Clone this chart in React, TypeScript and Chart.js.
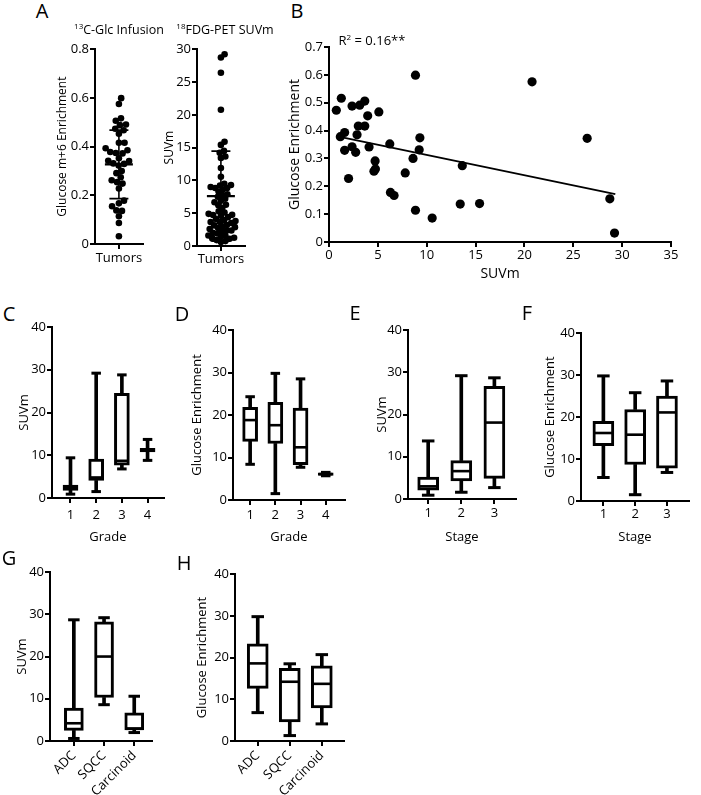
import React, { useEffect, useRef } from 'react';
import { Chart, registerables } from 'chart.js';

Chart.register(...registerables);

const FONT = "'Open Sans', 'DejaVu Sans', sans-serif";
const INK = '#000000';

// ---------------- data: panels A / B ----------------
// paired tumours (SUVm vs 13C glucose m+6 enrichment)
const suvmPaired = [0.75, 1.26, 1.16, 1.6, 1.6, 2.0, 2.36, 2.36, 2.73, 2.87, 3.0, 3.14, 3.66, 3.66, 3.96, 4.1, 4.72, 4.6, 4.75, 5.1, 6.22, 6.29, 6.66, 7.8, 8.6, 8.85, 8.85, 9.23, 9.3, 10.56, 13.43, 13.64, 15.41, 20.78, 26.42, 28.74, 29.22];
const glucosePaired = [0.473, 0.516, 0.378, 0.393, 0.329, 0.228, 0.488, 0.342, 0.322, 0.385, 0.416, 0.491, 0.506, 0.416, 0.453, 0.341, 0.291, 0.254, 0.262, 0.467, 0.352, 0.178, 0.167, 0.248, 0.3, 0.599, 0.114, 0.331, 0.374, 0.086, 0.136, 0.274, 0.138, 0.575, 0.372, 0.155, 0.032];
// tumours with FDG-PET only
const suvmUnpaired = [15.9, 14.5, 14.2, 11.9, 9.5, 9.0, 8.3, 7.9, 7.5, 7.2, 6.9, 5.8, 5.3, 4.9, 4.4, 3.8, 3.5, 3.2, 2.6, 2.2, 1.9, 1.4, 1.1, 0.9, 0.6];
const glucoseMean = 0.327;
const glucoseSD = 0.141;
const suvmMean = 7.6;
const suvmSD = 6.85;
const regressionSlope = -0.0073;
const regressionIntercept = 0.3855;
const regressionXRange = [0.75, 29.3];

// ---------------- data: box plots ----------------
const gradeLabels = ['1', '2', '3', '4'];
const stageLabels = ['1', '2', '3'];
const histologyLabels = ['ADC', 'SQCC', 'Carcinoid'];

// C: SUVm by grade
const cMin = [0.9, 1.5, 6.8, 8.8];
const cQ1 = [1.8, 4.1, 7.7, 10.8];
const cMed = [2.4, 4.8, 8.7, 11.2];
const cQ3 = [3.0, 9.1, 24.5, 11.6];
const cMax = [9.4, 29.2, 28.8, 13.7];
// D: glucose enrichment by grade
const dMin = [8.4, 1.5, 7.7, 5.7];
const dQ1 = [13.8, 13.3, 8.3, 5.8];
const dMed = [18.8, 17.6, 12.4, 6.1];
const dQ3 = [21.8, 23.0, 21.6, 6.4];
const dMax = [24.3, 29.8, 28.5, 6.5];
// E: SUVm by stage
const eMin = [0.9, 1.6, 2.7];
const eQ1 = [2.1, 4.3, 4.9];
const eMed = [3.0, 6.6, 18.1];
const eQ3 = [5.2, 9.1, 26.7];
const eMax = [13.75, 29.2, 28.7];
// F: glucose enrichment by stage
const fMin = [5.6, 1.5, 6.8];
const fQ1 = [13.2, 8.7, 7.8];
const fMed = [16.2, 15.8, 21.1];
const fQ3 = [19.0, 21.8, 25.0];
const fMax = [29.8, 25.8, 28.6];
// G: SUVm by histology
const gMin = [0.6, 8.6, 2.0];
const gQ1 = [2.5, 10.3, 2.6];
const gMed = [4.2, 20.0, 2.9];
const gQ3 = [7.8, 28.2, 6.7];
const gMax = [28.7, 29.2, 10.6];
// H: glucose enrichment by histology
const hMin = [6.8, 1.3, 4.1];
const hQ1 = [12.6, 4.6, 7.9];
const hMed = [18.6, 14.2, 13.7];
const hQ3 = [23.3, 17.4, 18.0];
const hMax = [29.8, 18.5, 20.7];

// ---------------- layout helpers ----------------
type Area = { l: number; t: number; r: number; b: number };
type Frame = { left: number; top: number; width: number; height: number; padT: number; padR: number; yW: number; xH: number; area: Area };

function makeFrame(a: Area, yTitleX: number, yTitleSize: number, xBottom: number, padT: number, padR: number): Frame {
  const left = Math.round(yTitleX - (yTitleSize * 1.2) / 2);
  const yW = a.l - left;
  const xH = Math.round(xBottom) - a.b;
  return { left, top: a.t - padT, width: yW + (a.r - a.l) + padR, height: padT + (a.b - a.t) + xH, padT, padR, yW, xH, area: a };
}

const axisGrid = { display: true, drawOnChartArea: false, drawTicks: true, tickLength: 5, color: INK, lineWidth: 2 };
const axisBorder = { display: true, color: INK, width: 2 };

function yScale(min: number, max: number, step: number, title: string, titleSize: number, frame: Frame) {
  return {
    type: 'linear',
    min, max,
    ticks: { stepSize: step, color: INK, font: { family: FONT, size: 13 }, padding: 1, autoSkip: false },
    grid: axisGrid,
    border: axisBorder,
    title: { display: true, text: title, color: INK, font: { family: FONT, size: titleSize }, padding: 0 },
    afterFit: (s: any) => { s.width = frame.yW; },
  };
}

function xCatScale(min: number, max: number, positions: number[], labels: string[], frame: Frame, tickPad: number, rotation: number, title?: string) {
  return {
    type: 'linear',
    min, max,
    offset: false,
    afterBuildTicks: (s: any) => { s.ticks = positions.map((v) => ({ value: v })); },
    ticks: {
      callback: (_v: any, i: number) => labels[i] ?? '',
      autoSkip: false, minRotation: rotation, maxRotation: rotation, padding: tickPad,
      color: INK, font: { family: FONT, size: 13 },
    },
    grid: { ...axisGrid, offset: false },
    border: axisBorder,
    title: title ? { display: true, text: title, color: INK, font: { family: FONT, size: 13 }, padding: 0 } : { display: false },
    afterFit: (s: any) => { s.height = frame.xH; },
  };
}

function baseOptions(frame: Frame, scales: any) {
  return {
    responsive: false,
    animation: false,
    devicePixelRatio: 1,
    events: [],
    layout: { padding: { top: frame.padT, right: frame.padR, left: 0, bottom: 0 } },
    plugins: { legend: { display: false }, tooltip: { enabled: false }, title: { display: false } },
    scales,
  };
}

function beeswarmOffsets(values: number[], pxPerUnit: number, diameter: number): number[] {
  const idx = values.map((_, i) => i).sort((a, b) => values[a] - values[b]);
  const placed: { x: number; y: number }[] = [];
  const out = new Array(values.length).fill(0);
  const d2 = diameter * diameter;
  for (const i of idx) {
    const y = values[i] * pxPerUnit;
    const near = placed.filter((p) => Math.abs(p.y - y) < diameter);
    const cands = [0];
    for (const p of near) {
      const dx = Math.sqrt(d2 - (p.y - y) ** 2);
      cands.push(p.x + dx, p.x - dx);
    }
    cands.sort((a, b) => Math.abs(a) - Math.abs(b));
    let x = 0;
    for (const c of cands) {
      if (near.every((p) => (p.x - c) ** 2 + (p.y - y) ** 2 >= d2 - 0.01)) { x = c; break; }
    }
    placed.push({ x, y });
    out[i] = x;
  }
  return out;
}

// ---------------- chart configs ----------------
function stripConfig(frame: Frame, values: number[], yMax: number, yStep: number, yTitle: string, mean: number, sd: number, tickPad: number, swarmD: number) {
  const a = frame.area;
  const pxPerUnit = (a.b - a.t) / yMax;
  const offs = beeswarmOffsets(values, pxPerUnit, swarmD);
  const unitsPerPx = 2 / (a.r - a.l);
  const pts = values.map((v, i) => ({ x: offs[i] * unitsPerPx, y: v }));
  const lo = mean - sd;
  const hi = mean + sd;
  return {
    type: 'scatter',
    data: {
      datasets: [
        { type: 'scatter', data: [{ x: 0, y: mean }], pointStyle: 'line', pointRadius: 14, pointBorderWidth: 2.2, pointBorderColor: INK },
        { type: 'scatter', data: [{ x: 0, y: lo }, { x: 0, y: hi }], pointStyle: 'line', pointRadius: 9.5, pointBorderWidth: 1.8, pointBorderColor: INK },
        { type: 'line', showLine: true, data: [{ x: 0, y: lo }, { x: 0, y: hi }], borderColor: INK, borderWidth: 1.6, pointRadius: 0 },
        { type: 'scatter', data: pts, pointRadius: 3.3, pointBackgroundColor: INK, pointBorderWidth: 0, pointBorderColor: INK },
      ],
    },
    options: baseOptions(frame, {
      x: xCatScale(-1, 1, [0], ['Tumors'], frame, tickPad, 0),
      y: yScale(0, yMax, yStep, yTitle, 12, frame),
    }),
  };
}

function scatterConfig(frame: Frame) {
  const pts = suvmPaired.map((x, i) => ({ x, y: glucosePaired[i] }));
  const line = regressionXRange.map((x) => ({ x, y: regressionIntercept + regressionSlope * x }));
  return {
    type: 'scatter',
    data: {
      datasets: [
        { type: 'line', showLine: true, data: line, borderColor: INK, borderWidth: 1.8, pointRadius: 0 },
        { type: 'scatter', data: pts, pointRadius: 4.6, pointBackgroundColor: INK, pointBorderWidth: 0, pointBorderColor: INK },
      ],
    },
    options: baseOptions(frame, {
      x: {
        type: 'linear', min: 0, max: 35,
        ticks: { stepSize: 5, color: INK, font: { family: FONT, size: 13 }, padding: 0, autoSkip: false },
        grid: axisGrid, border: axisBorder,
        title: { display: true, text: 'SUVm', color: INK, font: { family: FONT, size: 14 }, padding: 0 },
        afterFit: (s: any) => { s.height = frame.xH; },
      },
      y: yScale(0, 0.7, 0.1, 'Glucose Enrichment', 14, frame),
    }),
  };
}

function boxConfig(frame: Frame, labels: string[], mins: number[], q1: number[], med: number[], q3: number[], maxs: number[],
  xMin: number, xMax: number, yTitle: string, xTitle: string | undefined, boxPx: number, tickPad: number, rotation: number) {
  const xs = labels.map((_, i) => i + 1);
  const lw = 3;
  return {
    type: 'scatter',
    data: {
      datasets: [
        { type: 'scatter', data: xs.map((x, i) => ({ x, y: med[i] })), pointStyle: 'line', pointRadius: boxPx / 2 - 1, pointBorderWidth: 2.6, pointBorderColor: INK },
        { type: 'scatter', data: [...xs.map((x, i) => ({ x, y: mins[i] })), ...xs.map((x, i) => ({ x, y: maxs[i] }))], pointStyle: 'line', pointRadius: boxPx / 4 + 1, pointBorderWidth: lw, pointBorderColor: INK },
        { type: 'bar', data: xs.map((x, i) => ({ x, y: [q1[i], q3[i]] })), barThickness: boxPx, backgroundColor: '#ffffff', borderColor: INK, borderWidth: lw, borderSkipped: false, grouped: false },
        { type: 'bar', data: xs.map((x, i) => ({ x, y: [mins[i], q1[i]] })), barThickness: lw, backgroundColor: INK, borderWidth: 0, grouped: false },
        { type: 'bar', data: xs.map((x, i) => ({ x, y: [q3[i], maxs[i]] })), barThickness: lw, backgroundColor: INK, borderWidth: 0, grouped: false },
      ],
    },
    options: baseOptions(frame, {
      x: xCatScale(xMin, xMax, xs, labels, frame, tickPad, rotation, xTitle),
      y: yScale(0, 40, 10, yTitle, 13, frame),
    }),
  };
}

// ---------------- frames ----------------
const frameA1 = makeFrame({ l: 95, t: 43, r: 151, b: 244 }, 62, 12, 270, 10, 8);
const frameA2 = makeFrame({ l: 197, t: 43, r: 253, b: 246 }, 169, 12, 272, 10, 8);
const frameB = makeFrame({ l: 329, t: 47, r: 671, b: 242 }, 295, 14, 282, 10, 14);
const frameC = makeFrame({ l: 52, t: 327, r: 167, b: 498 }, 23.5, 13, 545, 10, 6);
const frameD = makeFrame({ l: 233, t: 330, r: 348, b: 500 }, 197, 13, 545, 10, 6);
const frameE = makeFrame({ l: 408, t: 328, r: 522, b: 499 }, 382, 13, 545, 10, 6);
const frameF = makeFrame({ l: 581, t: 331, r: 698, b: 501 }, 550, 13, 545, 10, 3);
const frameG = makeFrame({ l: 50, t: 571, r: 157, b: 741 }, 22, 13, 795, 10, 6);
const frameH = makeFrame({ l: 235, t: 572, r: 350, b: 741 }, 202, 13, 795, 10, 6);

const panels: { key: string; frame: Frame; build: () => any }[] = [
  { key: 'a1', frame: frameA1, build: () => stripConfig(frameA1, glucosePaired, 0.8, 0.2, 'Glucose m+6 Enrichment', glucoseMean, glucoseSD, 1, 6.6) },
  { key: 'a2', frame: frameA2, build: () => stripConfig(frameA2, [...suvmPaired, ...suvmUnpaired], 30, 5, 'SUVm', suvmMean, suvmSD, 0, 5.4) },
  { key: 'b', frame: frameB, build: () => scatterConfig(frameB) },
  { key: 'c', frame: frameC, build: () => boxConfig(frameC, gradeLabels, cMin, cQ1, cMed, cQ3, cMax, 0.28, 4.636, 'SUVm', 'Grade', 15, 4, 0) },
  { key: 'd', frame: frameD, build: () => boxConfig(frameD, gradeLabels, dMin, dQ1, dMed, dQ3, dMax, 0.32, 4.76, 'Glucose Enrichment', 'Grade', 15, 2, 0) },
  { key: 'e', frame: frameE, build: () => boxConfig(frameE, stageLabels, eMin, eQ1, eMed, eQ3, eMax, 0.39, 3.65, 'SUVm', 'Stage', 21, 1, 0) },
  { key: 'f', frame: frameF, build: () => boxConfig(frameF, stageLabels, fMin, fQ1, fMed, fQ3, fMax, 0.296, 3.69, 'Glucose Enrichment', 'Stage', 21, 0, 0) },
  { key: 'g', frame: frameG, build: () => boxConfig(frameG, histologyLabels, gMin, gQ1, gMed, gQ3, gMax, 0.21, 3.585, 'SUVm', undefined, 19, 2, 45) },
  { key: 'h', frame: frameH, build: () => boxConfig(frameH, histologyLabels, hMin, hQ1, hMed, hQ3, hMax, 0.29, 3.69, 'Glucose Enrichment', undefined, 21, 2, 45) },
];

function ChartPanel({ frame, build }: { frame: Frame; build: () => any }) {
  const ref = useRef<HTMLCanvasElement | null>(null);
  useEffect(() => {
    if (!ref.current) return;
    const chart = new Chart(ref.current, build());
    return () => chart.destroy();
  }, []);
  return (
    <canvas
      ref={ref}
      width={frame.width}
      height={frame.height}
      style={{ position: 'absolute', left: frame.left, top: frame.top, width: frame.width, height: frame.height }}
    />
  );
}

function Label({ x, y, size, children }: { x: number; y: number; size: number; children: any }) {
  return (
    <div style={{ position: 'absolute', left: x, top: y, transform: 'translate(-50%, -50%)', fontSize: size, lineHeight: 1, whiteSpace: 'nowrap', fontFamily: FONT, color: INK }}>
      {children}
    </div>
  );
}

const supStyle = { fontSize: 8, position: 'relative' as const, top: -5, lineHeight: 0 };

export default function App() {
  return (
    <div style={{ position: 'absolute', left: 0, top: 0, width: 701, height: 795, background: '#ffffff', overflow: 'hidden' }}>
      {panels.map((p) => <ChartPanel key={p.key} frame={p.frame} build={p.build} />)}
      <Label x={42} y={11} size={20}>A</Label>
      <Label x={297} y={11} size={20}>B</Label>
      <Label x={9} y={314} size={20}>C</Label>
      <Label x={182} y={314} size={20}>D</Label>
      <Label x={355} y={313} size={20}>E</Label>
      <Label x={527} y={313} size={20}>F</Label>
      <Label x={9} y={558} size={20}>G</Label>
      <Label x={184} y={563} size={20}>H</Label>
      <Label x={119} y={30} size={12.5}><span style={supStyle}>13</span>C-Glc Infusion</Label>
      <Label x={225} y={30} size={12.5}><span style={supStyle}>18</span>FDG-PET SUVm</Label>
      <Label x={372} y={40} size={13}>R<span style={supStyle}>2</span> = 0.16**</Label>
    </div>
  );
}
